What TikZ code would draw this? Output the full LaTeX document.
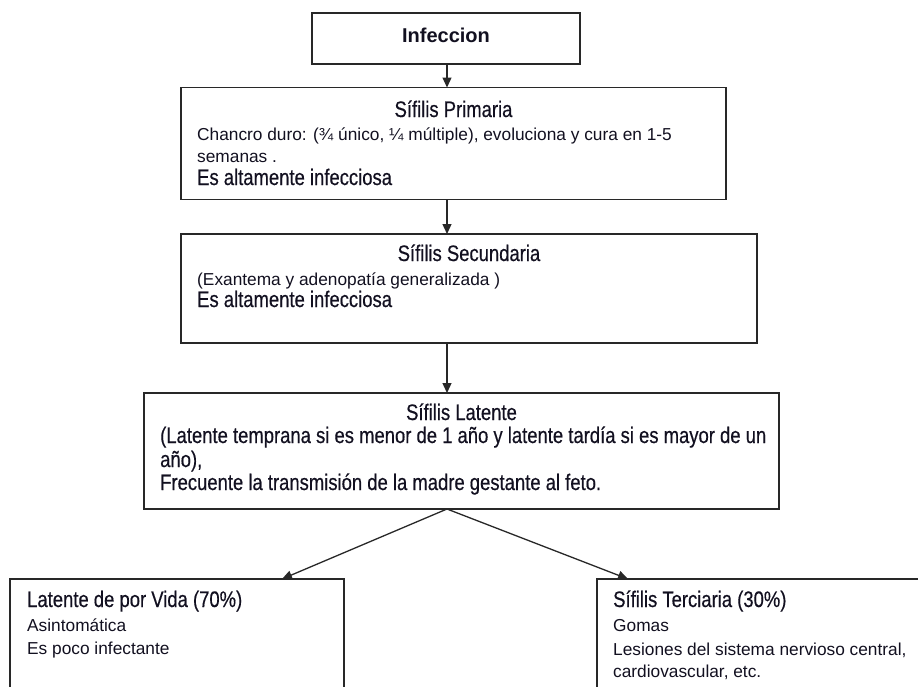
\documentclass[tikz,border=0pt]{standalone}
\usepackage{fontspec}
\setmainfont{Liberation Sans}
\newfontfamily\narrowf[FakeStretch=0.82,FakeBold=0.4]{Liberation Sans}
\usetikzlibrary{arrows.meta}
\definecolor{linec}{RGB}{40,40,40}
\definecolor{txtc}{RGB}{18,16,32}
\tikzset{
  box/.style={draw=linec, line width=1.5pt, inner sep=0pt, outer sep=0pt, anchor=north west},
  bigt/.style={anchor=base west, inner sep=0pt, font=\narrowf\fontsize{22.5}{27}\selectfont, text=txtc},
  smlt/.style={anchor=base west, inner sep=0pt, font=\fontsize{17.3}{21}\selectfont, text=txtc},
  ttl/.style={bigt, anchor=base},
  arr/.style={draw=linec, line width=1.3pt, -{Triangle[length=10pt,width=9pt]}}
}
\begin{document}
\begin{tikzpicture}[x=1pt,y=-1pt]
\useasboundingbox (0,0) rectangle (918,686);
\clip (0,0) rectangle (918,686);
\fill[white] (0,0) rectangle (918,686);
% boxes
\node[box, minimum width=268pt, minimum height=51pt] (inf) at (312,13) {};
\node[box, minimum width=545pt, minimum height=112pt] (prim) at (181,87.5) {};
\node[box, minimum width=576pt, minimum height=109pt] (sec) at (181,234) {};
\node[box, minimum width=635pt, minimum height=116pt] (lat) at (144,393) {};
\node[box, minimum width=334pt, minimum height=150pt] (vida) at (10,579) {};
\node[box, minimum width=380pt, minimum height=150pt] (ter) at (597,579) {};
% texts
\node[anchor=base, inner sep=0pt, font=\bfseries\fontsize{20}{24}\selectfont, text=txtc] (tinf) at (446,42) {Infeccion};
\node[ttl] (tp0) at (453.5,117) {Sífilis Primaria};
\node[smlt] (tp1) at (197,140) {Chancro duro: (¾ único, ¼ múltiple), evoluciona y cura en 1-5};
\node[smlt] (tp2) at (197,162) {semanas .};
\node[bigt] (tp3) at (197,185) {Es altamente infecciosa};
\node[ttl] (ts0) at (469,261) {Sífilis Secundaria};
\node[smlt] (ts1) at (197,285) {(Exantema y adenopatía generalizada )};
\node[bigt] (ts2) at (197,307) {Es altamente infecciosa};
\node[ttl] (tl0) at (461.5,420) {Sífilis Latente};
\node[bigt] (tl1) at (160,443) {(Latente temprana si es menor de 1 año y latente tardía si es mayor de un};
\node[bigt] (tl2) at (160,467) {año),};
\node[bigt] (tl3) at (160,490) {Frecuente la transmisión de la madre gestante al feto.};
\node[bigt] (tv0) at (27,607) {Latente de por Vida (70\%)};
\node[smlt] (tv1) at (27,631) {Asintomática};
\node[smlt] (tv2) at (27,654) {Es poco infectante};
\node[bigt] (tt0) at (613,607) {Sífilis Terciaria (30\%)};
\node[smlt] (tt1) at (613,631) {Gomas};
\node[smlt] (tt2) at (613,655) {Lesiones del sistema nervioso central,};
\node[smlt] (tt3) at (613,677) {cardiovascular, etc.};
% connectors
\coordinate (ax) at (447,0);
\coordinate (lx) at (282,0);
\coordinate (rx) at (628,0);
\draw[arr] (inf.south -| ax) -- (prim.north -| ax);
\draw[arr] (prim.south -| ax) -- (sec.north -| ax);
\draw[arr] (sec.south -| ax) -- (lat.north -| ax);
\draw[arr] (lat.south -| ax) -- (vida.north -| lx);
\draw[arr] (lat.south -| ax) -- (ter.north -| rx);
\end{tikzpicture}
\end{document}
